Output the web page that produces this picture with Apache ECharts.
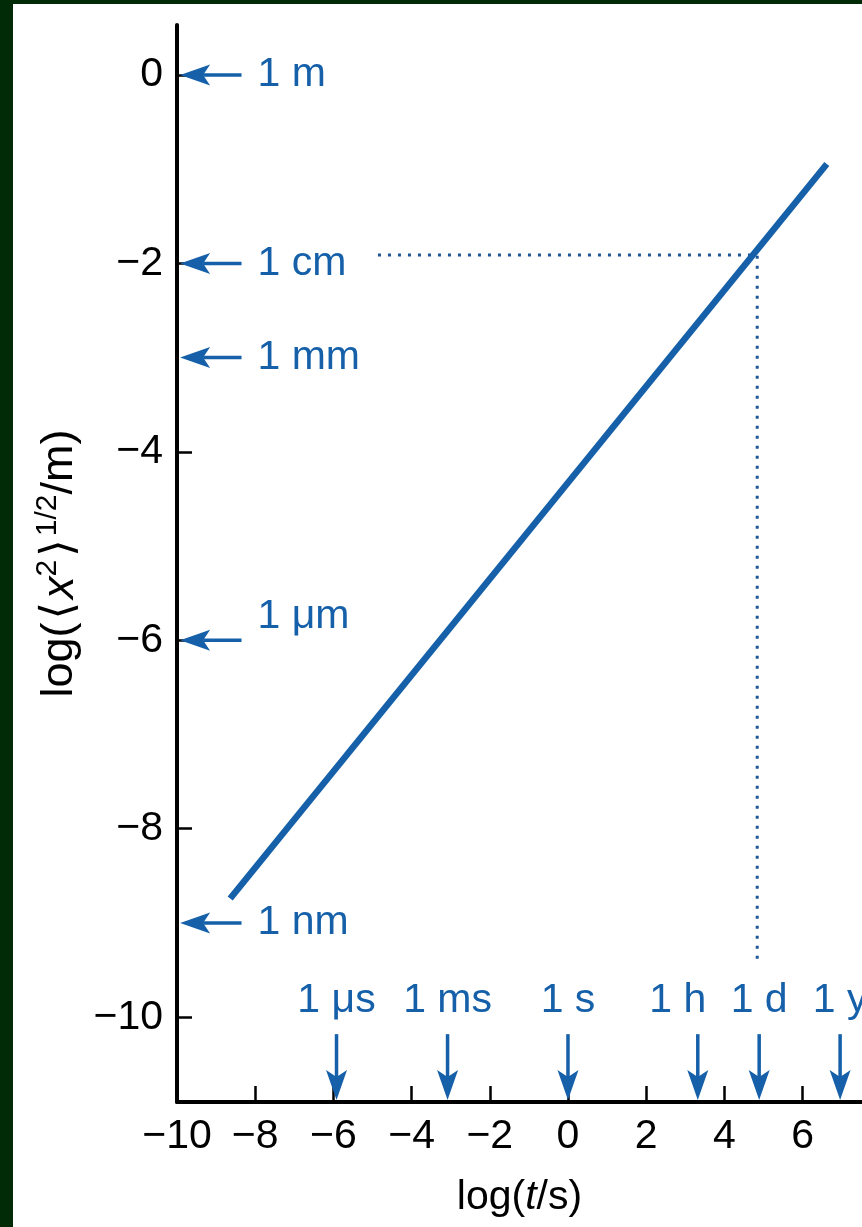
<!DOCTYPE html>
<html><head><meta charset="utf-8">
<script src="https://cdn.jsdelivr.net/npm/echarts@6/dist/echarts.min.js"></script>
<style>
html,body{margin:0;padding:0;background:#012a06;width:862px;height:1227px;overflow:hidden}
#c{position:absolute;left:13px;top:4px;width:849px;height:1223px;background:#fff}
</style></head><body><div id="c"></div>
<script>
// ---- data ----
const xTicks = [-10, -8, -6, -4, -2, 0, 2, 4, 6];
const yTicks = [0, -2, -4, -6, -8, -10];
const diffusionX = [-8.64, 6.62];
const diffusionY = [-8.74, -0.945];
const guideX = [-4.86, 4.84, 4.84];
const guideY = [-1.91, -1.91, -9.39];
const lengthLabels = ['1 m', '1 cm', '1 mm', '1 μm', '1 nm'];
const lengthValues = [0, -2, -3, -6, -9];
const timeLabels = ['1 μs', '1 ms', '1 s', '1 h', '1 d', '1 y'];
const timeValues = [-5.92, -3.08, 0, 3.32, 4.89, 6.96];
const lengthArrowFrom = -8.35, lengthArrowTo = -9.92;
const timeArrowFrom = -10.18, timeArrowTo = -10.88;

const FONT = '"Liberation Sans", Arial, Helvetica, "DejaVu Sans", sans-serif';
const BLUE = '#1560a9';
const minus = v => String(v).replace('-', '\u2212');

function headPoints(tip, dx, dy, L, W, notch) {
  const px = -dy, py = dx;
  const bx = tip[0] - dx * L, by = tip[1] - dy * L;
  const nx = tip[0] - dx * (L - notch), ny = tip[1] - dy * (L - notch);
  return [[tip[0], tip[1]], [bx + px * W / 2, by + py * W / 2], [nx, ny], [bx - px * W / 2, by - py * W / 2]];
}
function arrowRender(labels, kind) {
  return function (params, api) {
    const i = params.dataIndex;
    const p1 = api.coord([api.value(0), api.value(1)]);
    const p2 = api.coord([api.value(2), api.value(3)]);
    let dx = p2[0] - p1[0], dy = p2[1] - p1[1];
    const len = Math.hypot(dx, dy); dx /= len; dy /= len;
    const L = 30, W = 21, notch = 7;
    const shaftEnd = [p2[0] - dx * (L - notch), p2[1] - dy * (L - notch)];
    const children = [
      { type: 'line', shape: { x1: p1[0], y1: p1[1], x2: shaftEnd[0], y2: shaftEnd[1] },
        style: { stroke: BLUE, lineWidth: 3.5 } },
      { type: 'polygon', shape: { points: headPoints(p2, dx, dy, L, W, notch) }, style: { fill: BLUE } }
    ];
    let tx, ty, align;
    if (kind === 'len') {
      tx = p1[0] + 16; ty = p1[1] + (labels[i] === '1 μm' ? -24 : 0); align = 'left';
    } else {
      tx = p1[0] + (labels[i] === '1 h' ? -20 : 0); ty = p1[1] - 33; align = 'center';
    }
    children.push({ type: 'text', x: tx, y: ty,
      style: { text: labels[i], fill: BLUE, fontSize: 41, fontFamily: FONT, align: align, verticalAlign: 'middle' } });
    return { type: 'group', children: children };
  };
}

const chart = echarts.init(document.getElementById('c'), null, { renderer: 'canvas' });
const option = {
  animation: false,
  grid: { left: 164, top: 21, right: 0, bottom: 125 },
  xAxis: {
    type: 'value', min: -10, max: 7.52,
    axisLine: { onZero: false, lineStyle: { color: '#000', width: 4 } },
    axisTick: { inside: true, length: 16, customValues: xTicks, lineStyle: { color: '#000', width: 2.5 } },
    axisLabel: { customValues: xTicks, formatter: minus, fontSize: 41, color: '#000', margin: 14, fontFamily: FONT },
    splitLine: { show: false },
    name: '{a|log(}{i|t}{a|/s)}', nameLocation: 'middle', nameGap: 75,
    nameTextStyle: { rich: {
      a: { fontSize: 41, fontFamily: FONT, color: '#000' },
      i: { fontSize: 41, fontFamily: FONT, color: '#000', fontStyle: 'italic' } } }
  },
  yAxis: {
    type: 'value', min: -10.9, max: 0.53,
    axisLine: { onZero: false, lineStyle: { color: '#000', width: 4 } },
    axisTick: { inside: true, length: 15, customValues: yTicks, lineStyle: { color: '#000', width: 2.5 } },
    axisLabel: { customValues: yTicks, formatter: minus, fontSize: 41, color: '#000', margin: 14, fontFamily: FONT },
    splitLine: { show: false },
    name: '{a|log(}{b|⟨}{i|x}{s|2}{b|⟩}{s|1/2}{a|/m)}', nameLocation: 'middle', nameGap: 86,
    nameTextStyle: { rich: {
      a: { fontSize: 45, fontFamily: FONT, color: '#000', lineHeight: 54 },
      b: { fontSize: 45, fontFamily: FONT, color: '#000', lineHeight: 54, padding: [0, 3, 0, 3] },
      i: { fontSize: 45, fontFamily: FONT, color: '#000', fontStyle: 'italic', lineHeight: 54 },
      s: { fontSize: 30, fontFamily: FONT, color: '#000', verticalAlign: 'top', lineHeight: 32 } } }
  },
  series: [
    { type: 'line', data: guideX.map((x, i) => [x, guideY[i]]), symbol: 'none', z: 2,
      lineStyle: { color: '#1f5796', width: 3, type: [3, 7], cap: 'butt' } },
    { type: 'line', data: diffusionX.map((x, i) => [x, diffusionY[i]]), symbol: 'none', z: 3,
      lineStyle: { color: BLUE, width: 6.5, cap: 'butt' } },
    { type: 'custom', z: 4, data: lengthValues.map(v => [lengthArrowFrom, v, lengthArrowTo, v]),
      encode: { x: [0, 2], y: [1, 3] }, renderItem: arrowRender(lengthLabels, 'len') },
    { type: 'custom', z: 4, data: timeValues.map(v => [v, timeArrowFrom, v, timeArrowTo]),
      encode: { x: [0, 2], y: [1, 3] }, renderItem: arrowRender(timeLabels, 'time') }
  ]
};
chart.setOption(option);
</script></body></html>
